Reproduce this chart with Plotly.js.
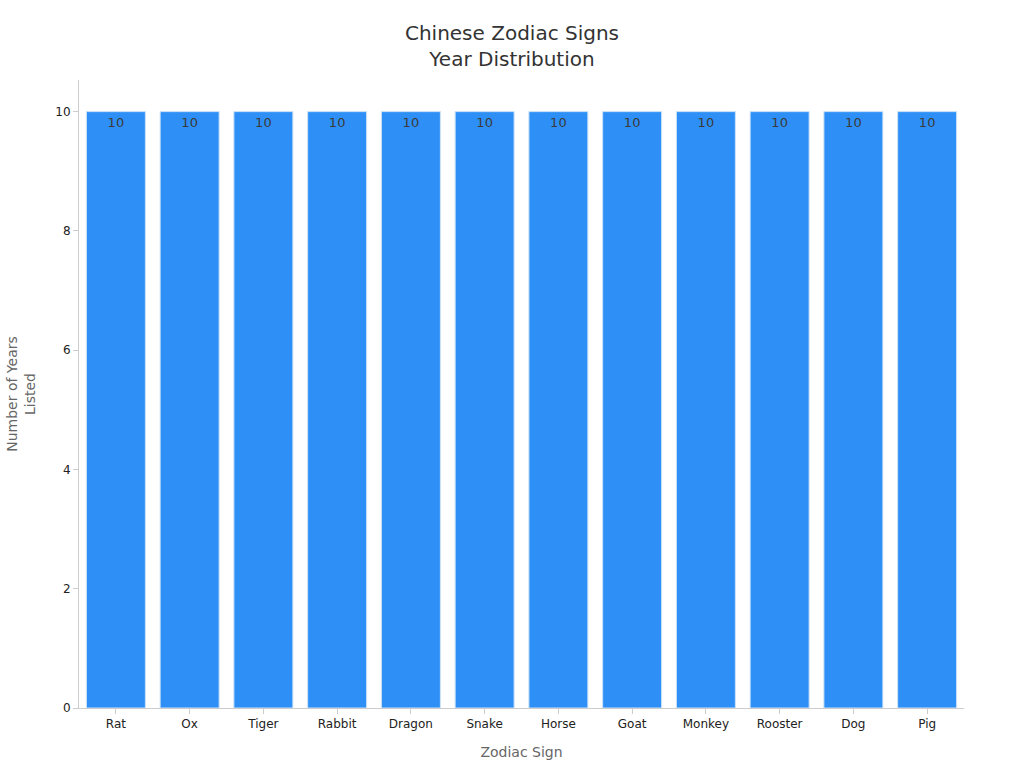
<!DOCTYPE html>
<html>
<head>
<meta charset="utf-8">
<script src="https://cdn.plot.ly/plotly-3.0.1.min.js"></script>
<style>
  html, body { margin: 0; padding: 0; background: #fff; }
  #chart { width: 1024px; height: 768px; }
</style>
</head>
<body>
<div id="chart"></div>
<script>
var signs = ['Rat', 'Ox', 'Tiger', 'Rabbit', 'Dragon', 'Snake', 'Horse', 'Goat', 'Monkey', 'Rooster', 'Dog', 'Pig']
var yearsListed = [10, 10, 10, 10, 10, 10, 10, 10, 10, 10, 10, 10]
var yTicks = [0, 2, 4, 6, 8, 10]

var trace = {
  x: signs,
  y: yearsListed,
  type: 'bar',
  text: yearsListed.map(String),
  textposition: 'inside',
  insidetextanchor: 'end',
  textfont: {color: '#3a3a3a', size: 13},
  marker: {color: '#2e90f7', line: {color: '#cfe3f7', width: 1}},
  hoverinfo: 'x+y'
}

var layout = {
  width: 1024,
  height: 768,
  font: {family: 'DejaVu Sans, sans-serif', color: '#222'},
  paper_bgcolor: '#ffffff',
  plot_bgcolor: '#ffffff',
  margin: {l: 79, r: 60, t: 80, b: 60},
  bargap: 0.2,
  showlegend: false,
  title: {
    text: 'Chinese Zodiac Signs<br>Year Distribution',
    font: {size: 20, color: '#333333'},
    x: 0.5,
    xanchor: 'center',
    y: 0.948,
    yanchor: 'top'
  },
  xaxis: {
    title: {text: 'Zodiac Sign', font: {size: 14, color: '#666666'}, standoff: 16},
    showline: true,
    linecolor: '#cccccc',
    ticks: 'outside',
    ticklen: 5,
    tickcolor: '#cccccc',
    tickfont: {size: 12},
    showgrid: false,
    zeroline: false
  },
  yaxis: {
    title: {text: 'Number of Years<br>Listed', font: {size: 14, color: '#666666'}, standoff: 16},
    range: [0, 10.53],
    tickvals: yTicks,
    showline: true,
    linecolor: '#cccccc',
    ticks: 'outside',
    ticklen: 5,
    tickcolor: '#cccccc',
    tickfont: {size: 12},
    showgrid: false,
    zeroline: false
  }
}

Plotly.newPlot('chart', [trace], layout, {displayModeBar: false, staticPlot: true})
</script>
</body>
</html>
